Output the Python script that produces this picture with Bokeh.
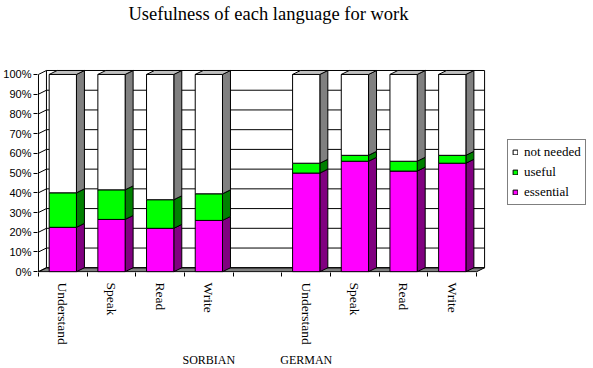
from bokeh.plotting import figure
from bokeh.models import (Range1d, FixedTicker, PrintfTickFormatter, LinearAxis,
                          Legend, LegendItem, Label)
from bokeh.embed import file_html
from bokeh.resources import INLINE

# ---------------- data ----------------
title_text = "Usefulness of each language for work"
languages = ["SORBIAN", "GERMAN"]
skills = ["Understand", "Speak", "Read", "Write"]
series_names = ["essential", "useful", "not needed"]

sorbian_essential = [22.5, 26.5, 22, 26]
sorbian_useful = [17.5, 15, 14.5, 13.5]
sorbian_not_needed = [60, 58.5, 63.5, 60.5]

german_essential = [50, 56, 51, 55]
german_useful = [5, 3, 5, 4]
german_not_needed = [45, 41, 44, 41]

y_ticks = [0, 10, 20, 30, 40, 50, 60, 70, 80, 90, 100]

# ---------------- styles / geometry ----------------
front_colors = {"essential": "#FF00FF", "useful": "#00FF00", "not needed": "#FFFFFF"}
side_colors = {"essential": "#800080", "useful": "#008000", "not needed": "#808080"}
top_color = "#C0C0C0"
floor_color = "#808080"
serif = "Liberation Serif"
sans = "Liberation Sans"

n_slots = len(languages) * len(skills) + (len(languages) - 1)
dx = 0.164          # depth offset (x data units)
dy = 2.0            # depth offset (y data units)
half_w = 0.28       # half bar width

values = {
    "SORBIAN": {"essential": sorbian_essential, "useful": sorbian_useful,
                "not needed": sorbian_not_needed},
    "GERMAN": {"essential": german_essential, "useful": german_useful,
               "not needed": german_not_needed},
}

positions, labels = [], {}
for g, lang in enumerate(languages):
    for i, s in enumerate(skills):
        xpos = g * (len(skills) + 1) + i
        positions.append((lang, i, xpos))
        labels[xpos] = s

x0, x1 = -0.5, n_slots - 0.5

# frame also covers the title and legend area (so nothing gets clipped)
p = figure(title=None, frame_width=550, frame_height=272,
           x_range=Range1d(x0 - 0.02, 10.778),
           y_range=Range1d(-0.4, 137.48),
           output_backend="svg", toolbar_location=None,
           min_border_left=34, min_border_right=0,
           min_border_top=0, min_border_bottom=86,
           background_fill_color="white", border_fill_color="white")
p.outline_line_color = None
p.xgrid.visible = False
p.ygrid.visible = False

# ---------------- walls / floor ----------------
p.patch([x0, x1, x1 + dx, x0 + dx], [0, 0, dy, dy],
        fill_color=floor_color, line_color="black", line_width=1)
p.segment(x0=[x0 + dx] * len(y_ticks), y0=[v + dy for v in y_ticks],
          x1=[x1 + dx] * len(y_ticks), y1=[v + dy for v in y_ticks],
          line_color="black", line_width=1)
p.segment(x0=[x0] * len(y_ticks), y0=y_ticks,
          x1=[x0 + dx] * len(y_ticks), y1=[v + dy for v in y_ticks],
          line_color="black", line_width=1)
p.segment(x0=[x0, x0 + dx, x1 + dx], y0=[0, dy, dy],
          x1=[x0, x0 + dx, x1 + dx], y1=[100, 100 + dy, 100 + dy],
          line_color="black", line_width=1)

# ---------------- bars ----------------
bottoms = {pos: 0.0 for _, _, pos in positions}
front_renderers = {}
for name in series_names:
    L, R, B, T = [], [], [], []
    sx, sy = [], []
    for lang, i, pos in positions:
        v = values[lang][name][i]
        b = bottoms[pos]
        t = b + v
        bottoms[pos] = t
        L.append(pos - half_w); R.append(pos + half_w); B.append(b); T.append(t)
        sx.append([pos + half_w, pos + half_w + dx, pos + half_w + dx, pos + half_w])
        sy.append([b, b + dy, t + dy, t])
    p.patches(sx, sy, fill_color=side_colors[name], line_color="black", line_width=1)
    front_renderers[name] = p.quad(left=L, right=R, bottom=B, top=T,
                                   fill_color=front_colors[name],
                                   line_color="black", line_width=1)

tx, ty = [], []
for lang, i, pos in positions:
    t = bottoms[pos]
    tx.append([pos - half_w, pos - half_w + dx, pos + half_w + dx, pos + half_w])
    ty.append([t, t + dy, t + dy, t])
p.patches(tx, ty, fill_color=top_color, line_color="black", line_width=1)

# ---------------- title ----------------
p.add_layout(Label(x=91, y=259, x_units="screen", y_units="screen",
                   text=title_text, text_font=serif, text_font_size="18.5px",
                   text_color="black", text_align="left",
                   text_baseline="alphabetic"))

# ---------------- axes ----------------
yax = p.yaxis[0]
yax.ticker = FixedTicker(ticks=y_ticks)
yax.formatter = PrintfTickFormatter(format="%d%%")
yax.axis_line_color = None
yax.major_tick_in = 0
yax.major_tick_out = 4
yax.minor_tick_line_color = None
yax.major_label_standoff = 2
yax.major_label_text_font = sans
yax.major_label_text_font_size = "11px"
yax.major_label_text_color = "black"

xax = p.xaxis[0]
centers = [pos for _, _, pos in positions]
bounds = [x0 + k for k in range(n_slots + 1)]
xax.ticker = FixedTicker(ticks=centers, minor_ticks=bounds)
xax.major_label_overrides = labels
xax.axis_line_color = None
xax.major_tick_line_color = None
xax.major_tick_in = 0
xax.major_tick_out = 0
xax.minor_tick_in = 0
xax.minor_tick_out = 4
xax.minor_tick_line_color = "black"
xax.major_label_orientation = "vertical"
xax.major_label_standoff = 6
xax.major_label_text_font = serif
xax.major_label_text_font_size = "13.5px"
xax.major_label_text_color = "black"

group_pos = [len(skills) - 1, len(skills) + 1]
gax = LinearAxis(ticker=FixedTicker(ticks=group_pos),
                 major_label_overrides={gp: lang for gp, lang in zip(group_pos, languages)})
gax.axis_line_color = None
gax.major_tick_line_color = None
gax.minor_tick_line_color = None
gax.major_tick_in = 0
gax.major_tick_out = 0
gax.major_label_standoff = 5
gax.major_label_text_font = serif
gax.major_label_text_font_size = "12px"
gax.major_label_text_color = "black"
p.add_layout(gax, "below")

# ---------------- legend ----------------
legend = Legend(items=[LegendItem(label=n, renderers=[front_renderers[n]])
                       for n in ["not needed", "useful", "essential"]],
                location=(470, 67))
legend.border_line_color = "black"
legend.border_line_width = 1
legend.background_fill_color = "white"
legend.background_fill_alpha = 1
legend.label_text_font = serif
legend.label_text_font_size = "13px"
legend.label_text_color = "black"
legend.glyph_width = 6
legend.glyph_height = 6
legend.label_standoff = 6
legend.label_height = 13
legend.spacing = 4
legend.padding = 4
legend.margin = 0
p.add_layout(legend)

open("out.html", "w").write(file_html(p, INLINE))
